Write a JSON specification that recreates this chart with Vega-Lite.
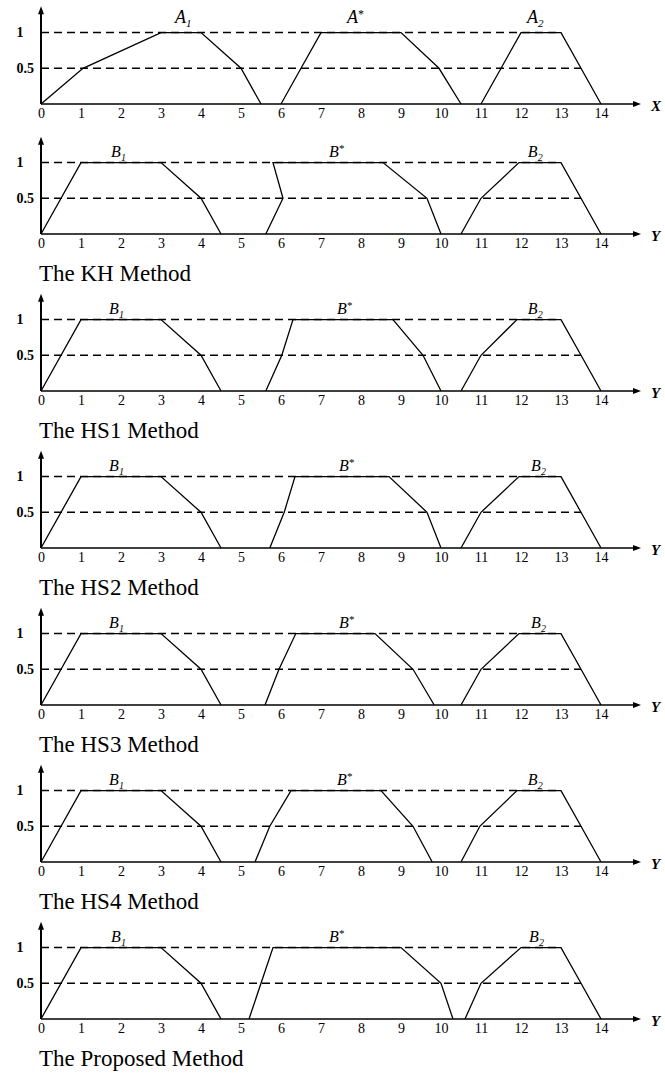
{
  "$schema": "https://vega.github.io/schema/vega-lite/v6.json",
  "padding": {"left": 16, "top": 4, "right": 0, "bottom": 2},
  "background": "white",
  "config": {
    "view": {"stroke": null},
    "font": "Liberation Serif",
    "axis": {"grid": false, "domain": false, "ticks": false, "title": null, "labelFont": "Liberation Serif", "labelColor": "black"},
    "text": {"font": "Liberation Serif", "color": "black"}
  },
  "datasets": {
    "guides": [
      {"level": 1, "x0": 0, "x1": 13},
      {"level": 0.5, "x0": 0, "x1": 13.5}
    ],
    "curves": [
      {"p": "A", "s": "A1", "i": 0, "x": 0, "y": 0},
      {"p": "A", "s": "A1", "i": 1, "x": 1.05, "y": 0.5},
      {"p": "A", "s": "A1", "i": 2, "x": 3, "y": 1},
      {"p": "A", "s": "A1", "i": 3, "x": 4, "y": 1},
      {"p": "A", "s": "A1", "i": 4, "x": 5, "y": 0.5},
      {"p": "A", "s": "A1", "i": 5, "x": 5.5, "y": 0},
      {"p": "A", "s": "As", "i": 0, "x": 6, "y": 0},
      {"p": "A", "s": "As", "i": 1, "x": 6.5, "y": 0.5},
      {"p": "A", "s": "As", "i": 2, "x": 7, "y": 1},
      {"p": "A", "s": "As", "i": 3, "x": 9, "y": 1},
      {"p": "A", "s": "As", "i": 4, "x": 9.95, "y": 0.5},
      {"p": "A", "s": "As", "i": 5, "x": 10.5, "y": 0},
      {"p": "A", "s": "A2", "i": 0, "x": 11, "y": 0},
      {"p": "A", "s": "A2", "i": 1, "x": 12, "y": 1},
      {"p": "A", "s": "A2", "i": 2, "x": 13, "y": 1},
      {"p": "A", "s": "A2", "i": 3, "x": 13.5, "y": 0.5},
      {"p": "A", "s": "A2", "i": 4, "x": 14, "y": 0},

      {"p": "KH", "s": "B1", "i": 0, "x": 0, "y": 0},
      {"p": "KH", "s": "B1", "i": 1, "x": 1, "y": 1},
      {"p": "KH", "s": "B1", "i": 2, "x": 3, "y": 1},
      {"p": "KH", "s": "B1", "i": 3, "x": 4, "y": 0.5},
      {"p": "KH", "s": "B1", "i": 4, "x": 4.5, "y": 0},
      {"p": "KH", "s": "Bs", "i": 0, "x": 5.62, "y": 0},
      {"p": "KH", "s": "Bs", "i": 1, "x": 6.05, "y": 0.5},
      {"p": "KH", "s": "Bs", "i": 2, "x": 5.8, "y": 1},
      {"p": "KH", "s": "Bs", "i": 3, "x": 8.55, "y": 1},
      {"p": "KH", "s": "Bs", "i": 4, "x": 9.65, "y": 0.5},
      {"p": "KH", "s": "Bs", "i": 5, "x": 10, "y": 0},
      {"p": "KH", "s": "B2", "i": 0, "x": 10.5, "y": 0},
      {"p": "KH", "s": "B2", "i": 1, "x": 11, "y": 0.5},
      {"p": "KH", "s": "B2", "i": 2, "x": 11.95, "y": 1},
      {"p": "KH", "s": "B2", "i": 3, "x": 13, "y": 1},
      {"p": "KH", "s": "B2", "i": 4, "x": 13.5, "y": 0.5},
      {"p": "KH", "s": "B2", "i": 5, "x": 14, "y": 0},

      {"p": "HS1", "s": "B1", "i": 0, "x": 0, "y": 0},
      {"p": "HS1", "s": "B1", "i": 1, "x": 1, "y": 1},
      {"p": "HS1", "s": "B1", "i": 2, "x": 3, "y": 1},
      {"p": "HS1", "s": "B1", "i": 3, "x": 4, "y": 0.5},
      {"p": "HS1", "s": "B1", "i": 4, "x": 4.5, "y": 0},
      {"p": "HS1", "s": "Bs", "i": 0, "x": 5.62, "y": 0},
      {"p": "HS1", "s": "Bs", "i": 1, "x": 6.02, "y": 0.5},
      {"p": "HS1", "s": "Bs", "i": 2, "x": 6.3, "y": 1},
      {"p": "HS1", "s": "Bs", "i": 3, "x": 8.8, "y": 1},
      {"p": "HS1", "s": "Bs", "i": 4, "x": 9.55, "y": 0.5},
      {"p": "HS1", "s": "Bs", "i": 5, "x": 10, "y": 0},
      {"p": "HS1", "s": "B2", "i": 0, "x": 10.5, "y": 0},
      {"p": "HS1", "s": "B2", "i": 1, "x": 11, "y": 0.5},
      {"p": "HS1", "s": "B2", "i": 2, "x": 11.9, "y": 1},
      {"p": "HS1", "s": "B2", "i": 3, "x": 13, "y": 1},
      {"p": "HS1", "s": "B2", "i": 4, "x": 13.5, "y": 0.5},
      {"p": "HS1", "s": "B2", "i": 5, "x": 14, "y": 0},

      {"p": "HS2", "s": "B1", "i": 0, "x": 0, "y": 0},
      {"p": "HS2", "s": "B1", "i": 1, "x": 1, "y": 1},
      {"p": "HS2", "s": "B1", "i": 2, "x": 3, "y": 1},
      {"p": "HS2", "s": "B1", "i": 3, "x": 4, "y": 0.5},
      {"p": "HS2", "s": "B1", "i": 4, "x": 4.5, "y": 0},
      {"p": "HS2", "s": "Bs", "i": 0, "x": 5.72, "y": 0},
      {"p": "HS2", "s": "Bs", "i": 1, "x": 6.08, "y": 0.5},
      {"p": "HS2", "s": "Bs", "i": 2, "x": 6.35, "y": 1},
      {"p": "HS2", "s": "Bs", "i": 3, "x": 8.7, "y": 1},
      {"p": "HS2", "s": "Bs", "i": 4, "x": 9.65, "y": 0.5},
      {"p": "HS2", "s": "Bs", "i": 5, "x": 10, "y": 0},
      {"p": "HS2", "s": "B2", "i": 0, "x": 10.5, "y": 0},
      {"p": "HS2", "s": "B2", "i": 1, "x": 11, "y": 0.5},
      {"p": "HS2", "s": "B2", "i": 2, "x": 11.95, "y": 1},
      {"p": "HS2", "s": "B2", "i": 3, "x": 13, "y": 1},
      {"p": "HS2", "s": "B2", "i": 4, "x": 13.5, "y": 0.5},
      {"p": "HS2", "s": "B2", "i": 5, "x": 14, "y": 0},

      {"p": "HS3", "s": "B1", "i": 0, "x": 0, "y": 0},
      {"p": "HS3", "s": "B1", "i": 1, "x": 1, "y": 1},
      {"p": "HS3", "s": "B1", "i": 2, "x": 3, "y": 1},
      {"p": "HS3", "s": "B1", "i": 3, "x": 4, "y": 0.5},
      {"p": "HS3", "s": "B1", "i": 4, "x": 4.5, "y": 0},
      {"p": "HS3", "s": "Bs", "i": 0, "x": 5.6, "y": 0},
      {"p": "HS3", "s": "Bs", "i": 1, "x": 5.95, "y": 0.5},
      {"p": "HS3", "s": "Bs", "i": 2, "x": 6.37, "y": 1},
      {"p": "HS3", "s": "Bs", "i": 3, "x": 8.35, "y": 1},
      {"p": "HS3", "s": "Bs", "i": 4, "x": 9.3, "y": 0.5},
      {"p": "HS3", "s": "Bs", "i": 5, "x": 9.83, "y": 0},
      {"p": "HS3", "s": "B2", "i": 0, "x": 10.5, "y": 0},
      {"p": "HS3", "s": "B2", "i": 1, "x": 11, "y": 0.5},
      {"p": "HS3", "s": "B2", "i": 2, "x": 11.95, "y": 1},
      {"p": "HS3", "s": "B2", "i": 3, "x": 13, "y": 1},
      {"p": "HS3", "s": "B2", "i": 4, "x": 13.5, "y": 0.5},
      {"p": "HS3", "s": "B2", "i": 5, "x": 14, "y": 0},

      {"p": "HS4", "s": "B1", "i": 0, "x": 0, "y": 0},
      {"p": "HS4", "s": "B1", "i": 1, "x": 1, "y": 1},
      {"p": "HS4", "s": "B1", "i": 2, "x": 3, "y": 1},
      {"p": "HS4", "s": "B1", "i": 3, "x": 4, "y": 0.5},
      {"p": "HS4", "s": "B1", "i": 4, "x": 4.5, "y": 0},
      {"p": "HS4", "s": "Bs", "i": 0, "x": 5.35, "y": 0},
      {"p": "HS4", "s": "Bs", "i": 1, "x": 5.72, "y": 0.5},
      {"p": "HS4", "s": "Bs", "i": 2, "x": 6.25, "y": 1},
      {"p": "HS4", "s": "Bs", "i": 3, "x": 8.5, "y": 1},
      {"p": "HS4", "s": "Bs", "i": 4, "x": 9.3, "y": 0.5},
      {"p": "HS4", "s": "Bs", "i": 5, "x": 9.78, "y": 0},
      {"p": "HS4", "s": "B2", "i": 0, "x": 10.5, "y": 0},
      {"p": "HS4", "s": "B2", "i": 1, "x": 10.97, "y": 0.5},
      {"p": "HS4", "s": "B2", "i": 2, "x": 11.9, "y": 1},
      {"p": "HS4", "s": "B2", "i": 3, "x": 13, "y": 1},
      {"p": "HS4", "s": "B2", "i": 4, "x": 13.5, "y": 0.5},
      {"p": "HS4", "s": "B2", "i": 5, "x": 14, "y": 0},

      {"p": "PR", "s": "B1", "i": 0, "x": 0, "y": 0},
      {"p": "PR", "s": "B1", "i": 1, "x": 1, "y": 1},
      {"p": "PR", "s": "B1", "i": 2, "x": 3, "y": 1},
      {"p": "PR", "s": "B1", "i": 3, "x": 4, "y": 0.5},
      {"p": "PR", "s": "B1", "i": 4, "x": 4.5, "y": 0},
      {"p": "PR", "s": "Bs", "i": 0, "x": 5.2, "y": 0},
      {"p": "PR", "s": "Bs", "i": 1, "x": 5.5, "y": 0.5},
      {"p": "PR", "s": "Bs", "i": 2, "x": 5.8, "y": 1},
      {"p": "PR", "s": "Bs", "i": 3, "x": 9, "y": 1},
      {"p": "PR", "s": "Bs", "i": 4, "x": 10, "y": 0.5},
      {"p": "PR", "s": "Bs", "i": 5, "x": 10.3, "y": 0},
      {"p": "PR", "s": "B2", "i": 0, "x": 10.6, "y": 0},
      {"p": "PR", "s": "B2", "i": 1, "x": 11, "y": 0.5},
      {"p": "PR", "s": "B2", "i": 2, "x": 12, "y": 1},
      {"p": "PR", "s": "B2", "i": 3, "x": 13, "y": 1},
      {"p": "PR", "s": "B2", "i": 4, "x": 13.5, "y": 0.5},
      {"p": "PR", "s": "B2", "i": 5, "x": 14, "y": 0}
    ],
    "labels": [
      {"p": "A", "x": 3.35, "y": 1.14, "t": "A", "sub": "1", "sup": ""},
      {"p": "A", "x": 7.65, "y": 1.14, "t": "A", "sub": "", "sup": "*"},
      {"p": "A", "x": 12.15, "y": 1.14, "t": "A", "sub": "2", "sup": ""},
      {"p": "KH", "x": 1.75, "y": 1.08, "t": "B", "sub": "1", "sup": ""},
      {"p": "KH", "x": 7.2, "y": 1.08, "t": "B", "sub": "", "sup": "*"},
      {"p": "KH", "x": 12.17, "y": 1.08, "t": "B", "sub": "2", "sup": ""},
      {"p": "HS1", "x": 1.7, "y": 1.08, "t": "B", "sub": "1", "sup": ""},
      {"p": "HS1", "x": 7.4, "y": 1.08, "t": "B", "sub": "", "sup": "*"},
      {"p": "HS1", "x": 12.17, "y": 1.08, "t": "B", "sub": "2", "sup": ""},
      {"p": "HS2", "x": 1.7, "y": 1.08, "t": "B", "sub": "1", "sup": ""},
      {"p": "HS2", "x": 7.45, "y": 1.08, "t": "B", "sub": "", "sup": "*"},
      {"p": "HS2", "x": 12.25, "y": 1.08, "t": "B", "sub": "2", "sup": ""},
      {"p": "HS3", "x": 1.7, "y": 1.08, "t": "B", "sub": "1", "sup": ""},
      {"p": "HS3", "x": 7.45, "y": 1.08, "t": "B", "sub": "", "sup": "*"},
      {"p": "HS3", "x": 12.25, "y": 1.08, "t": "B", "sub": "2", "sup": ""},
      {"p": "HS4", "x": 1.7, "y": 1.08, "t": "B", "sub": "1", "sup": ""},
      {"p": "HS4", "x": 7.4, "y": 1.08, "t": "B", "sub": "", "sup": "*"},
      {"p": "HS4", "x": 12.17, "y": 1.08, "t": "B", "sub": "2", "sup": ""},
      {"p": "PR", "x": 1.75, "y": 1.08, "t": "B", "sub": "1", "sup": ""},
      {"p": "PR", "x": 7.2, "y": 1.08, "t": "B", "sub": "", "sup": "*"},
      {"p": "PR", "x": 12.2, "y": 1.08, "t": "B", "sub": "2", "sup": ""}
    ]
  },
  "bounds": "flush",
  "spacing": 30,
  "vconcat": [
    {
      "width": 600, "height": 100,
      "layer": [
        {"data": {"name": "guides"}, "mark": {"type": "rule", "color": "black", "strokeWidth": 1.4, "strokeDash": [8, 5]},
         "encoding": {
           "x": {"field": "x0", "type": "quantitative", "scale": {"domain": [0, 15], "nice": false},
                 "axis": {"values": [0,1,2,3,4,5,6,7,8,9,10,11,12,13,14], "labelFont": "Liberation Serif", "labelFontSize": 14, "labelPadding": 2, "labelFlush": false, "labelOverlap": false}},
           "x2": {"field": "x1"},
           "y": {"field": "level", "type": "quantitative", "scale": {"domain": [0, 1.4], "nice": false},
                 "axis": {"values": [0.5, 1], "format": "~g", "labelFont": "Liberation Serif", "labelFontSize": 14, "labelAlign": "left", "labelPadding": 25, "labelFontWeight": "bold"}}
         }},
        {"data": {"values": [{}]}, "mark": {"type": "rule", "color": "black", "strokeWidth": 1.5}, "encoding": {"x": {"datum": 0}, "x2": {"datum": 14.9}, "y": {"datum": 0}}},
        {"data": {"values": [{}]}, "mark": {"type": "rule", "color": "black", "strokeWidth": 2}, "encoding": {"x": {"datum": 0}, "y": {"datum": 0}, "y2": {"datum": 1.3}}},
        {"data": {"values": [{}]}, "mark": {"type": "point", "shape": "M0,0L-2,-0.75L-2,0.75Z", "size": 64, "filled": true, "color": "black", "opacity": 1}, "encoding": {"x": {"datum": 15}, "y": {"datum": 0}}},
        {"data": {"values": [{}]}, "mark": {"type": "point", "shape": "M0,0L-0.75,2L0.75,2Z", "size": 64, "filled": true, "color": "black", "opacity": 1}, "encoding": {"x": {"datum": 0}, "y": {"datum": 1.37}}},
        {"data": {"name": "curves"}, "transform": [{"filter": "datum.p == 'A'"}], "mark": {"type": "line", "color": "black", "strokeWidth": 1.3},
         "encoding": {"x": {"field": "x", "type": "quantitative"}, "y": {"field": "y", "type": "quantitative"}, "detail": {"field": "s"}, "order": {"field": "i", "type": "quantitative"}}},
        {"data": {"name": "labels"}, "transform": [{"filter": "datum.p == 'A'"}], "mark": {"type": "text", "align": "left", "baseline": "alphabetic", "fontStyle": "italic", "fontSize": 18},
         "encoding": {"x": {"field": "x", "type": "quantitative"}, "y": {"field": "y", "type": "quantitative"}, "text": {"field": "t"}}},
        {"data": {"name": "labels"}, "transform": [{"filter": "datum.p == 'A'"}], "mark": {"type": "text", "align": "left", "baseline": "alphabetic", "fontStyle": "italic", "fontSize": 11, "dx": 11, "dy": 4},
         "encoding": {"x": {"field": "x", "type": "quantitative"}, "y": {"field": "y", "type": "quantitative"}, "text": {"field": "sub"}}},
        {"data": {"name": "labels"}, "transform": [{"filter": "datum.p == 'A'"}], "mark": {"type": "text", "align": "left", "baseline": "alphabetic", "fontSize": 12, "dx": 11, "dy": -5},
         "encoding": {"x": {"field": "x", "type": "quantitative"}, "y": {"field": "y", "type": "quantitative"}, "text": {"field": "sup"}}},
        {"data": {"values": [{}]}, "mark": {"type": "text", "text": "X", "align": "left", "baseline": "middle", "dx": 10, "dy": 2, "fontStyle": "italic", "fontWeight": "bold", "fontSize": 15}, "encoding": {"x": {"datum": 15}, "y": {"datum": 0}}}
      ]
    },
    {
      "bounds": "flush",
      "spacing": 57,
      "vconcat": [
        {
          "width": 600, "height": 100,
          "layer": [
            {"data": {"name": "guides"}, "mark": {"type": "rule", "color": "black", "strokeWidth": 1.4, "strokeDash": [8, 5]},
             "encoding": {
               "x": {"field": "x0", "type": "quantitative", "scale": {"domain": [0, 15], "nice": false},
                     "axis": {"values": [0,1,2,3,4,5,6,7,8,9,10,11,12,13,14], "labelFont": "Liberation Serif", "labelFontSize": 14, "labelPadding": 2, "labelFlush": false, "labelOverlap": false}},
               "x2": {"field": "x1"},
               "y": {"field": "level", "type": "quantitative", "scale": {"domain": [0, 1.4], "nice": false},
                     "axis": {"values": [0.5, 1], "format": "~g", "labelFont": "Liberation Serif", "labelFontSize": 14, "labelAlign": "left", "labelPadding": 25, "labelFontWeight": "bold"}}
             }},
            {"data": {"values": [{}]}, "mark": {"type": "rule", "color": "black", "strokeWidth": 1.5}, "encoding": {"x": {"datum": 0}, "x2": {"datum": 14.9}, "y": {"datum": 0}}},
            {"data": {"values": [{}]}, "mark": {"type": "rule", "color": "black", "strokeWidth": 2}, "encoding": {"x": {"datum": 0}, "y": {"datum": 0}, "y2": {"datum": 1.3}}},
            {"data": {"values": [{}]}, "mark": {"type": "point", "shape": "M0,0L-2,-0.75L-2,0.75Z", "size": 64, "filled": true, "color": "black", "opacity": 1}, "encoding": {"x": {"datum": 15}, "y": {"datum": 0}}},
            {"data": {"values": [{}]}, "mark": {"type": "point", "shape": "M0,0L-0.75,2L0.75,2Z", "size": 64, "filled": true, "color": "black", "opacity": 1}, "encoding": {"x": {"datum": 0}, "y": {"datum": 1.36}}},
            {"data": {"name": "curves"}, "transform": [{"filter": "datum.p == 'KH'"}], "mark": {"type": "line", "color": "black", "strokeWidth": 1.3},
             "encoding": {"x": {"field": "x", "type": "quantitative"}, "y": {"field": "y", "type": "quantitative"}, "detail": {"field": "s"}, "order": {"field": "i", "type": "quantitative"}}},
            {"data": {"name": "labels"}, "transform": [{"filter": "datum.p == 'KH'"}], "mark": {"type": "text", "align": "left", "baseline": "alphabetic", "fontStyle": "italic", "fontSize": 16},
             "encoding": {"x": {"field": "x", "type": "quantitative"}, "y": {"field": "y", "type": "quantitative"}, "text": {"field": "t"}}},
            {"data": {"name": "labels"}, "transform": [{"filter": "datum.p == 'KH'"}], "mark": {"type": "text", "align": "left", "baseline": "alphabetic", "fontStyle": "italic", "fontSize": 10, "dx": 10, "dy": 4},
             "encoding": {"x": {"field": "x", "type": "quantitative"}, "y": {"field": "y", "type": "quantitative"}, "text": {"field": "sub"}}},
            {"data": {"name": "labels"}, "transform": [{"filter": "datum.p == 'KH'"}], "mark": {"type": "text", "align": "left", "baseline": "alphabetic", "fontSize": 11, "dx": 10, "dy": -5},
             "encoding": {"x": {"field": "x", "type": "quantitative"}, "y": {"field": "y", "type": "quantitative"}, "text": {"field": "sup"}}},
            {"data": {"values": [{}]}, "mark": {"type": "text", "text": "Y", "align": "left", "baseline": "middle", "dx": 10, "dy": 2, "fontStyle": "italic", "fontWeight": "bold", "fontSize": 15}, "encoding": {"x": {"datum": 15}, "y": {"datum": 0}}},
            {"data": {"values": [{}]}, "mark": {"type": "text", "text": "The KH Method", "align": "left", "baseline": "alphabetic", "dx": -2, "fontSize": 23}, "encoding": {"x": {"datum": 0}, "y": {"datum": -0.66}}}
          ]
        },
        {
          "width": 600, "height": 100,
          "layer": [
            {"data": {"name": "guides"}, "mark": {"type": "rule", "color": "black", "strokeWidth": 1.4, "strokeDash": [8, 5]},
             "encoding": {
               "x": {"field": "x0", "type": "quantitative", "scale": {"domain": [0, 15], "nice": false},
                     "axis": {"values": [0,1,2,3,4,5,6,7,8,9,10,11,12,13,14], "labelFont": "Liberation Serif", "labelFontSize": 14, "labelPadding": 2, "labelFlush": false, "labelOverlap": false}},
               "x2": {"field": "x1"},
               "y": {"field": "level", "type": "quantitative", "scale": {"domain": [0, 1.4], "nice": false},
                     "axis": {"values": [0.5, 1], "format": "~g", "labelFont": "Liberation Serif", "labelFontSize": 14, "labelAlign": "left", "labelPadding": 25, "labelFontWeight": "bold"}}
             }},
            {"data": {"values": [{}]}, "mark": {"type": "rule", "color": "black", "strokeWidth": 1.5}, "encoding": {"x": {"datum": 0}, "x2": {"datum": 14.9}, "y": {"datum": 0}}},
            {"data": {"values": [{}]}, "mark": {"type": "rule", "color": "black", "strokeWidth": 2}, "encoding": {"x": {"datum": 0}, "y": {"datum": 0}, "y2": {"datum": 1.3}}},
            {"data": {"values": [{}]}, "mark": {"type": "point", "shape": "M0,0L-2,-0.75L-2,0.75Z", "size": 64, "filled": true, "color": "black", "opacity": 1}, "encoding": {"x": {"datum": 15}, "y": {"datum": 0}}},
            {"data": {"values": [{}]}, "mark": {"type": "point", "shape": "M0,0L-0.75,2L0.75,2Z", "size": 64, "filled": true, "color": "black", "opacity": 1}, "encoding": {"x": {"datum": 0}, "y": {"datum": 1.36}}},
            {"data": {"name": "curves"}, "transform": [{"filter": "datum.p == 'HS1'"}], "mark": {"type": "line", "color": "black", "strokeWidth": 1.3},
             "encoding": {"x": {"field": "x", "type": "quantitative"}, "y": {"field": "y", "type": "quantitative"}, "detail": {"field": "s"}, "order": {"field": "i", "type": "quantitative"}}},
            {"data": {"name": "labels"}, "transform": [{"filter": "datum.p == 'HS1'"}], "mark": {"type": "text", "align": "left", "baseline": "alphabetic", "fontStyle": "italic", "fontSize": 16},
             "encoding": {"x": {"field": "x", "type": "quantitative"}, "y": {"field": "y", "type": "quantitative"}, "text": {"field": "t"}}},
            {"data": {"name": "labels"}, "transform": [{"filter": "datum.p == 'HS1'"}], "mark": {"type": "text", "align": "left", "baseline": "alphabetic", "fontStyle": "italic", "fontSize": 10, "dx": 10, "dy": 4},
             "encoding": {"x": {"field": "x", "type": "quantitative"}, "y": {"field": "y", "type": "quantitative"}, "text": {"field": "sub"}}},
            {"data": {"name": "labels"}, "transform": [{"filter": "datum.p == 'HS1'"}], "mark": {"type": "text", "align": "left", "baseline": "alphabetic", "fontSize": 11, "dx": 10, "dy": -5},
             "encoding": {"x": {"field": "x", "type": "quantitative"}, "y": {"field": "y", "type": "quantitative"}, "text": {"field": "sup"}}},
            {"data": {"values": [{}]}, "mark": {"type": "text", "text": "Y", "align": "left", "baseline": "middle", "dx": 10, "dy": 2, "fontStyle": "italic", "fontWeight": "bold", "fontSize": 15}, "encoding": {"x": {"datum": 15}, "y": {"datum": 0}}},
            {"data": {"values": [{}]}, "mark": {"type": "text", "text": "The HS1 Method", "align": "left", "baseline": "alphabetic", "dx": -2, "fontSize": 23}, "encoding": {"x": {"datum": 0}, "y": {"datum": -0.66}}}
          ]
        },
        {
          "width": 600, "height": 100,
          "layer": [
            {"data": {"name": "guides"}, "mark": {"type": "rule", "color": "black", "strokeWidth": 1.4, "strokeDash": [8, 5]},
             "encoding": {
               "x": {"field": "x0", "type": "quantitative", "scale": {"domain": [0, 15], "nice": false},
                     "axis": {"values": [0,1,2,3,4,5,6,7,8,9,10,11,12,13,14], "labelFont": "Liberation Serif", "labelFontSize": 14, "labelPadding": 2, "labelFlush": false, "labelOverlap": false}},
               "x2": {"field": "x1"},
               "y": {"field": "level", "type": "quantitative", "scale": {"domain": [0, 1.4], "nice": false},
                     "axis": {"values": [0.5, 1], "format": "~g", "labelFont": "Liberation Serif", "labelFontSize": 14, "labelAlign": "left", "labelPadding": 25, "labelFontWeight": "bold"}}
             }},
            {"data": {"values": [{}]}, "mark": {"type": "rule", "color": "black", "strokeWidth": 1.5}, "encoding": {"x": {"datum": 0}, "x2": {"datum": 14.9}, "y": {"datum": 0}}},
            {"data": {"values": [{}]}, "mark": {"type": "rule", "color": "black", "strokeWidth": 2}, "encoding": {"x": {"datum": 0}, "y": {"datum": 0}, "y2": {"datum": 1.3}}},
            {"data": {"values": [{}]}, "mark": {"type": "point", "shape": "M0,0L-2,-0.75L-2,0.75Z", "size": 64, "filled": true, "color": "black", "opacity": 1}, "encoding": {"x": {"datum": 15}, "y": {"datum": 0}}},
            {"data": {"values": [{}]}, "mark": {"type": "point", "shape": "M0,0L-0.75,2L0.75,2Z", "size": 64, "filled": true, "color": "black", "opacity": 1}, "encoding": {"x": {"datum": 0}, "y": {"datum": 1.36}}},
            {"data": {"name": "curves"}, "transform": [{"filter": "datum.p == 'HS2'"}], "mark": {"type": "line", "color": "black", "strokeWidth": 1.3},
             "encoding": {"x": {"field": "x", "type": "quantitative"}, "y": {"field": "y", "type": "quantitative"}, "detail": {"field": "s"}, "order": {"field": "i", "type": "quantitative"}}},
            {"data": {"name": "labels"}, "transform": [{"filter": "datum.p == 'HS2'"}], "mark": {"type": "text", "align": "left", "baseline": "alphabetic", "fontStyle": "italic", "fontSize": 16},
             "encoding": {"x": {"field": "x", "type": "quantitative"}, "y": {"field": "y", "type": "quantitative"}, "text": {"field": "t"}}},
            {"data": {"name": "labels"}, "transform": [{"filter": "datum.p == 'HS2'"}], "mark": {"type": "text", "align": "left", "baseline": "alphabetic", "fontStyle": "italic", "fontSize": 10, "dx": 10, "dy": 4},
             "encoding": {"x": {"field": "x", "type": "quantitative"}, "y": {"field": "y", "type": "quantitative"}, "text": {"field": "sub"}}},
            {"data": {"name": "labels"}, "transform": [{"filter": "datum.p == 'HS2'"}], "mark": {"type": "text", "align": "left", "baseline": "alphabetic", "fontSize": 11, "dx": 10, "dy": -5},
             "encoding": {"x": {"field": "x", "type": "quantitative"}, "y": {"field": "y", "type": "quantitative"}, "text": {"field": "sup"}}},
            {"data": {"values": [{}]}, "mark": {"type": "text", "text": "Y", "align": "left", "baseline": "middle", "dx": 10, "dy": 2, "fontStyle": "italic", "fontWeight": "bold", "fontSize": 15}, "encoding": {"x": {"datum": 15}, "y": {"datum": 0}}},
            {"data": {"values": [{}]}, "mark": {"type": "text", "text": "The HS2 Method", "align": "left", "baseline": "alphabetic", "dx": -2, "fontSize": 23}, "encoding": {"x": {"datum": 0}, "y": {"datum": -0.66}}}
          ]
        },
        {
          "width": 600, "height": 100,
          "layer": [
            {"data": {"name": "guides"}, "mark": {"type": "rule", "color": "black", "strokeWidth": 1.4, "strokeDash": [8, 5]},
             "encoding": {
               "x": {"field": "x0", "type": "quantitative", "scale": {"domain": [0, 15], "nice": false},
                     "axis": {"values": [0,1,2,3,4,5,6,7,8,9,10,11,12,13,14], "labelFont": "Liberation Serif", "labelFontSize": 14, "labelPadding": 2, "labelFlush": false, "labelOverlap": false}},
               "x2": {"field": "x1"},
               "y": {"field": "level", "type": "quantitative", "scale": {"domain": [0, 1.4], "nice": false},
                     "axis": {"values": [0.5, 1], "format": "~g", "labelFont": "Liberation Serif", "labelFontSize": 14, "labelAlign": "left", "labelPadding": 25, "labelFontWeight": "bold"}}
             }},
            {"data": {"values": [{}]}, "mark": {"type": "rule", "color": "black", "strokeWidth": 1.5}, "encoding": {"x": {"datum": 0}, "x2": {"datum": 14.9}, "y": {"datum": 0}}},
            {"data": {"values": [{}]}, "mark": {"type": "rule", "color": "black", "strokeWidth": 2}, "encoding": {"x": {"datum": 0}, "y": {"datum": 0}, "y2": {"datum": 1.3}}},
            {"data": {"values": [{}]}, "mark": {"type": "point", "shape": "M0,0L-2,-0.75L-2,0.75Z", "size": 64, "filled": true, "color": "black", "opacity": 1}, "encoding": {"x": {"datum": 15}, "y": {"datum": 0}}},
            {"data": {"values": [{}]}, "mark": {"type": "point", "shape": "M0,0L-0.75,2L0.75,2Z", "size": 64, "filled": true, "color": "black", "opacity": 1}, "encoding": {"x": {"datum": 0}, "y": {"datum": 1.36}}},
            {"data": {"name": "curves"}, "transform": [{"filter": "datum.p == 'HS3'"}], "mark": {"type": "line", "color": "black", "strokeWidth": 1.3},
             "encoding": {"x": {"field": "x", "type": "quantitative"}, "y": {"field": "y", "type": "quantitative"}, "detail": {"field": "s"}, "order": {"field": "i", "type": "quantitative"}}},
            {"data": {"name": "labels"}, "transform": [{"filter": "datum.p == 'HS3'"}], "mark": {"type": "text", "align": "left", "baseline": "alphabetic", "fontStyle": "italic", "fontSize": 16},
             "encoding": {"x": {"field": "x", "type": "quantitative"}, "y": {"field": "y", "type": "quantitative"}, "text": {"field": "t"}}},
            {"data": {"name": "labels"}, "transform": [{"filter": "datum.p == 'HS3'"}], "mark": {"type": "text", "align": "left", "baseline": "alphabetic", "fontStyle": "italic", "fontSize": 10, "dx": 10, "dy": 4},
             "encoding": {"x": {"field": "x", "type": "quantitative"}, "y": {"field": "y", "type": "quantitative"}, "text": {"field": "sub"}}},
            {"data": {"name": "labels"}, "transform": [{"filter": "datum.p == 'HS3'"}], "mark": {"type": "text", "align": "left", "baseline": "alphabetic", "fontSize": 11, "dx": 10, "dy": -5},
             "encoding": {"x": {"field": "x", "type": "quantitative"}, "y": {"field": "y", "type": "quantitative"}, "text": {"field": "sup"}}},
            {"data": {"values": [{}]}, "mark": {"type": "text", "text": "Y", "align": "left", "baseline": "middle", "dx": 10, "dy": 2, "fontStyle": "italic", "fontWeight": "bold", "fontSize": 15}, "encoding": {"x": {"datum": 15}, "y": {"datum": 0}}},
            {"data": {"values": [{}]}, "mark": {"type": "text", "text": "The HS3 Method", "align": "left", "baseline": "alphabetic", "dx": -2, "fontSize": 23}, "encoding": {"x": {"datum": 0}, "y": {"datum": -0.66}}}
          ]
        },
        {
          "width": 600, "height": 100,
          "layer": [
            {"data": {"name": "guides"}, "mark": {"type": "rule", "color": "black", "strokeWidth": 1.4, "strokeDash": [8, 5]},
             "encoding": {
               "x": {"field": "x0", "type": "quantitative", "scale": {"domain": [0, 15], "nice": false},
                     "axis": {"values": [0,1,2,3,4,5,6,7,8,9,10,11,12,13,14], "labelFont": "Liberation Serif", "labelFontSize": 14, "labelPadding": 2, "labelFlush": false, "labelOverlap": false}},
               "x2": {"field": "x1"},
               "y": {"field": "level", "type": "quantitative", "scale": {"domain": [0, 1.4], "nice": false},
                     "axis": {"values": [0.5, 1], "format": "~g", "labelFont": "Liberation Serif", "labelFontSize": 14, "labelAlign": "left", "labelPadding": 25, "labelFontWeight": "bold"}}
             }},
            {"data": {"values": [{}]}, "mark": {"type": "rule", "color": "black", "strokeWidth": 1.5}, "encoding": {"x": {"datum": 0}, "x2": {"datum": 14.9}, "y": {"datum": 0}}},
            {"data": {"values": [{}]}, "mark": {"type": "rule", "color": "black", "strokeWidth": 2}, "encoding": {"x": {"datum": 0}, "y": {"datum": 0}, "y2": {"datum": 1.3}}},
            {"data": {"values": [{}]}, "mark": {"type": "point", "shape": "M0,0L-2,-0.75L-2,0.75Z", "size": 64, "filled": true, "color": "black", "opacity": 1}, "encoding": {"x": {"datum": 15}, "y": {"datum": 0}}},
            {"data": {"values": [{}]}, "mark": {"type": "point", "shape": "M0,0L-0.75,2L0.75,2Z", "size": 64, "filled": true, "color": "black", "opacity": 1}, "encoding": {"x": {"datum": 0}, "y": {"datum": 1.36}}},
            {"data": {"name": "curves"}, "transform": [{"filter": "datum.p == 'HS4'"}], "mark": {"type": "line", "color": "black", "strokeWidth": 1.3},
             "encoding": {"x": {"field": "x", "type": "quantitative"}, "y": {"field": "y", "type": "quantitative"}, "detail": {"field": "s"}, "order": {"field": "i", "type": "quantitative"}}},
            {"data": {"name": "labels"}, "transform": [{"filter": "datum.p == 'HS4'"}], "mark": {"type": "text", "align": "left", "baseline": "alphabetic", "fontStyle": "italic", "fontSize": 16},
             "encoding": {"x": {"field": "x", "type": "quantitative"}, "y": {"field": "y", "type": "quantitative"}, "text": {"field": "t"}}},
            {"data": {"name": "labels"}, "transform": [{"filter": "datum.p == 'HS4'"}], "mark": {"type": "text", "align": "left", "baseline": "alphabetic", "fontStyle": "italic", "fontSize": 10, "dx": 10, "dy": 4},
             "encoding": {"x": {"field": "x", "type": "quantitative"}, "y": {"field": "y", "type": "quantitative"}, "text": {"field": "sub"}}},
            {"data": {"name": "labels"}, "transform": [{"filter": "datum.p == 'HS4'"}], "mark": {"type": "text", "align": "left", "baseline": "alphabetic", "fontSize": 11, "dx": 10, "dy": -5},
             "encoding": {"x": {"field": "x", "type": "quantitative"}, "y": {"field": "y", "type": "quantitative"}, "text": {"field": "sup"}}},
            {"data": {"values": [{}]}, "mark": {"type": "text", "text": "Y", "align": "left", "baseline": "middle", "dx": 10, "dy": 2, "fontStyle": "italic", "fontWeight": "bold", "fontSize": 15}, "encoding": {"x": {"datum": 15}, "y": {"datum": 0}}},
            {"data": {"values": [{}]}, "mark": {"type": "text", "text": "The HS4 Method", "align": "left", "baseline": "alphabetic", "dx": -2, "fontSize": 23}, "encoding": {"x": {"datum": 0}, "y": {"datum": -0.66}}}
          ]
        },
        {
          "width": 600, "height": 100,
          "layer": [
            {"data": {"name": "guides"}, "mark": {"type": "rule", "color": "black", "strokeWidth": 1.4, "strokeDash": [8, 5]},
             "encoding": {
               "x": {"field": "x0", "type": "quantitative", "scale": {"domain": [0, 15], "nice": false},
                     "axis": {"values": [0,1,2,3,4,5,6,7,8,9,10,11,12,13,14], "labelFont": "Liberation Serif", "labelFontSize": 14, "labelPadding": 2, "labelFlush": false, "labelOverlap": false}},
               "x2": {"field": "x1"},
               "y": {"field": "level", "type": "quantitative", "scale": {"domain": [0, 1.4], "nice": false},
                     "axis": {"values": [0.5, 1], "format": "~g", "labelFont": "Liberation Serif", "labelFontSize": 14, "labelAlign": "left", "labelPadding": 25, "labelFontWeight": "bold"}}
             }},
            {"data": {"values": [{}]}, "mark": {"type": "rule", "color": "black", "strokeWidth": 1.5}, "encoding": {"x": {"datum": 0}, "x2": {"datum": 14.9}, "y": {"datum": 0}}},
            {"data": {"values": [{}]}, "mark": {"type": "rule", "color": "black", "strokeWidth": 2}, "encoding": {"x": {"datum": 0}, "y": {"datum": 0}, "y2": {"datum": 1.3}}},
            {"data": {"values": [{}]}, "mark": {"type": "point", "shape": "M0,0L-2,-0.75L-2,0.75Z", "size": 64, "filled": true, "color": "black", "opacity": 1}, "encoding": {"x": {"datum": 15}, "y": {"datum": 0}}},
            {"data": {"values": [{}]}, "mark": {"type": "point", "shape": "M0,0L-0.75,2L0.75,2Z", "size": 64, "filled": true, "color": "black", "opacity": 1}, "encoding": {"x": {"datum": 0}, "y": {"datum": 1.36}}},
            {"data": {"name": "curves"}, "transform": [{"filter": "datum.p == 'PR'"}], "mark": {"type": "line", "color": "black", "strokeWidth": 1.3},
             "encoding": {"x": {"field": "x", "type": "quantitative"}, "y": {"field": "y", "type": "quantitative"}, "detail": {"field": "s"}, "order": {"field": "i", "type": "quantitative"}}},
            {"data": {"name": "labels"}, "transform": [{"filter": "datum.p == 'PR'"}], "mark": {"type": "text", "align": "left", "baseline": "alphabetic", "fontStyle": "italic", "fontSize": 16},
             "encoding": {"x": {"field": "x", "type": "quantitative"}, "y": {"field": "y", "type": "quantitative"}, "text": {"field": "t"}}},
            {"data": {"name": "labels"}, "transform": [{"filter": "datum.p == 'PR'"}], "mark": {"type": "text", "align": "left", "baseline": "alphabetic", "fontStyle": "italic", "fontSize": 10, "dx": 10, "dy": 4},
             "encoding": {"x": {"field": "x", "type": "quantitative"}, "y": {"field": "y", "type": "quantitative"}, "text": {"field": "sub"}}},
            {"data": {"name": "labels"}, "transform": [{"filter": "datum.p == 'PR'"}], "mark": {"type": "text", "align": "left", "baseline": "alphabetic", "fontSize": 11, "dx": 10, "dy": -5},
             "encoding": {"x": {"field": "x", "type": "quantitative"}, "y": {"field": "y", "type": "quantitative"}, "text": {"field": "sup"}}},
            {"data": {"values": [{}]}, "mark": {"type": "text", "text": "Y", "align": "left", "baseline": "middle", "dx": 10, "dy": 2, "fontStyle": "italic", "fontWeight": "bold", "fontSize": 15}, "encoding": {"x": {"datum": 15}, "y": {"datum": 0}}},
            {"data": {"values": [{}]}, "mark": {"type": "text", "text": "The Proposed Method", "align": "left", "baseline": "alphabetic", "dx": -2, "fontSize": 23}, "encoding": {"x": {"datum": 0}, "y": {"datum": -0.66}}}
          ]
        }
      ]
    }
  ]
}
